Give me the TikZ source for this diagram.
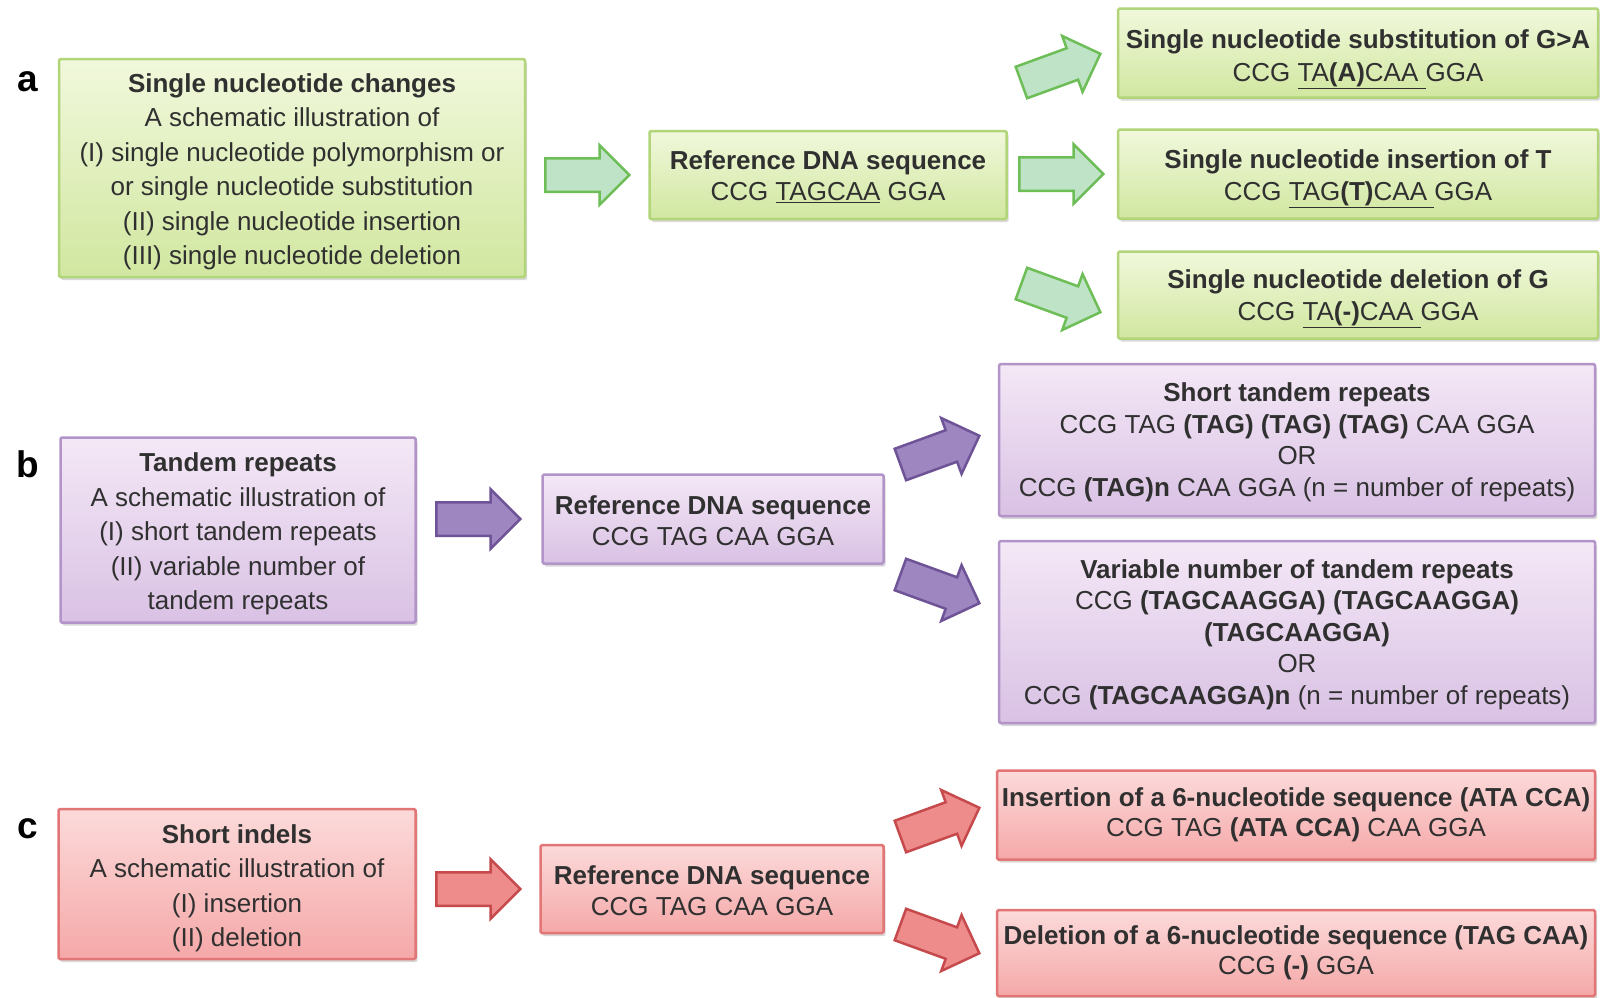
\documentclass[tikz,border=0pt]{standalone}
\usepackage{fontspec}
\setmainfont{Liberation Sans}
\usetikzlibrary{shapes.arrows,shadows}
\definecolor{txt}{HTML}{303030}
\definecolor{gtop}{HTML}{F1F8DC}
\definecolor{gbot}{HTML}{D1E7A0}
\definecolor{gborder}{HTML}{B2D57A}
\definecolor{gafill}{HTML}{BEE3C6}
\definecolor{gadraw}{HTML}{6DBE57}
\definecolor{ptop}{HTML}{F4E8F6}
\definecolor{pbot}{HTML}{D9C1E4}
\definecolor{pborder}{HTML}{B394C9}
\definecolor{pafill}{HTML}{9E86C1}
\definecolor{padraw}{HTML}{6E5397}
\definecolor{rtop}{HTML}{FCDADA}
\definecolor{rbot}{HTML}{F5A8A8}
\definecolor{rborder}{HTML}{E27575}
\definecolor{rafill}{HTML}{EE8C8C}
\definecolor{radraw}{HTML}{C64A4C}
\newcommand{\topstrut}[1]{\rule{0pt}{#1}}
\tikzset{
  box/.style={line width=2.5pt, rounded corners=1.5pt, align=center, text=txt,
    font=\fontsize{26}{31.5}\selectfont, inner sep=0pt,
    drop shadow={shadow xshift=2pt, shadow yshift=-3pt, opacity=0.25, fill=black!60}},
  tallbox/.style={font=\fontsize{26}{34.5}\selectfont},
  gbox/.style={box, draw=gborder, top color=gtop, bottom color=gbot},
  pbox/.style={box, draw=pborder, top color=ptop, bottom color=pbot},
  rbox/.style={box, draw=rborder, top color=rtop, bottom color=rbot},
  barrow/.style={single arrow, line width=2.5pt, inner xsep=0pt, inner ysep=15.5pt,
    minimum width=58pt, minimum height=84pt, single arrow head extend=13pt},
  garrow/.style={barrow, draw=gadraw, fill=gafill},
  parrow/.style={barrow, draw=padraw, fill=pafill},
  rarrow/.style={barrow, draw=radraw, fill=rafill},
  panel/.style={font=\fontsize{37}{37}\selectfont\bfseries, text=black, inner sep=0pt},
}
\begin{document}
\begin{tikzpicture}[x=1pt,y=-1pt]
\useasboundingbox[fill=white] (0,0) rectangle (1600,997);
% ---------- a ----------
\node[panel] (la) at (28,82) {a};
\node[gbox, tallbox, minimum width=466pt, minimum height=218pt] (a0) at (292,168)
  {\topstrut{26pt}\textbf{Single nucleotide changes}\\A schematic illustration of\\(I) single nucleotide polymorphism or\\or single nucleotide substitution\\(II) single nucleotide insertion\\(III) single nucleotide deletion};
\node[gbox, minimum width=357pt, minimum height=88pt] (a1) at (828,175)
  {\topstrut{22pt}\textbf{Reference DNA sequence}\\CCG \underline{TAGCAA} GGA};
\node[gbox, font=\fontsize{26}{32.5}\selectfont, minimum width=480pt, minimum height=89pt] (a2) at (1358,53)
  {\topstrut{31pt}\textbf{Single nucleotide substitution of G>A}\\CCG \underline{TA\textbf{(A)}CAA\ }GGA};
\node[gbox, font=\fontsize{26}{32.5}\selectfont, minimum width=480pt, minimum height=89pt] (a3) at (1358,174)
  {\topstrut{28pt}\textbf{Single nucleotide insertion of T}\\CCG \underline{TAG\textbf{(T)}CAA\ }GGA};
\node[gbox, font=\fontsize{26}{32.5}\selectfont, minimum width=480pt, minimum height=87pt] (a4) at (1358,295)
  {\topstrut{26pt}\textbf{Single nucleotide deletion of G}\\CCG \underline{TA\textbf{(-)}CAA\ }GGA};
\node[garrow] (aa1) at (579,175) {};
\node[garrow, rotate=20] (aa2) at (1053,71) {};
\node[garrow] (aa3) at (1053,174) {};
\node[garrow, rotate=-20] (aa4) at (1053,295) {};
% ---------- b ----------
\node[panel] (lb) at (28,464) {b};
\node[pbox, tallbox, minimum width=355pt, minimum height=185pt] (b0) at (238,530)
  {\topstrut{27pt}\textbf{Tandem repeats}\\A schematic illustration of\\(I) short tandem repeats\\(II) variable number of\\tandem repeats};
\node[pbox, minimum width=341pt, minimum height=89pt] (b1) at (713,519)
  {\topstrut{22pt}\textbf{Reference DNA sequence}\\CCG TAG CAA GGA};
\node[pbox, minimum width=596pt, minimum height=152pt] (b2) at (1297,440)
  {\topstrut{23pt}\textbf{Short tandem repeats}\\CCG TAG \textbf{(TAG) (TAG) (TAG)} CAA GGA\\OR\\CCG \textbf{(TAG)n} CAA GGA (n = number of repeats)};
\node[pbox, minimum width=596pt, minimum height=182pt] (b3) at (1297,632)
  {\topstrut{24pt}\textbf{Variable number of tandem repeats}\\CCG \textbf{(TAGCAAGGA) (TAGCAAGGA)}\\\textbf{(TAGCAAGGA)}\\OR\\CCG \textbf{(TAGCAAGGA)n} (n = number of repeats)};
\node[parrow] (ba1) at (470,519) {};
\node[parrow, rotate=20] (ba2) at (932,453) {};
\node[parrow, rotate=-20] (ba3) at (932,586) {};
% ---------- c ----------
\node[panel] (lc) at (28,829) {c};
\node[rbox, tallbox, minimum width=357pt, minimum height=150pt] (c0) at (237,884)
  {\topstrut{27pt}\textbf{Short indels}\\A schematic illustration of\\(I) insertion\\(II) deletion};
\node[rbox, minimum width=343pt, minimum height=88pt] (c1) at (712,889)
  {\topstrut{22pt}\textbf{Reference DNA sequence}\\CCG TAG CAA GGA};
\node[rbox, font=\fontsize{26}{30}\selectfont, minimum width=598pt, minimum height=89pt] (c2) at (1296,815)
  {\textbf{Insertion of a 6-nucleotide sequence (ATA CCA)}\\CCG TAG \textbf{(ATA CCA)} CAA GGA};
\node[rbox, font=\fontsize{26}{30}\selectfont, minimum width=598pt, minimum height=86pt] (c3) at (1296,953)
  {\textbf{Deletion of a 6-nucleotide sequence (TAG CAA)}\\CCG \textbf{(-)} GGA};
\node[rarrow] (ca1) at (470,889) {};
\node[rarrow, rotate=20] (ca2) at (932,825) {};
\node[rarrow, rotate=-20] (ca3) at (932,936) {};
\end{tikzpicture}
\end{document}
